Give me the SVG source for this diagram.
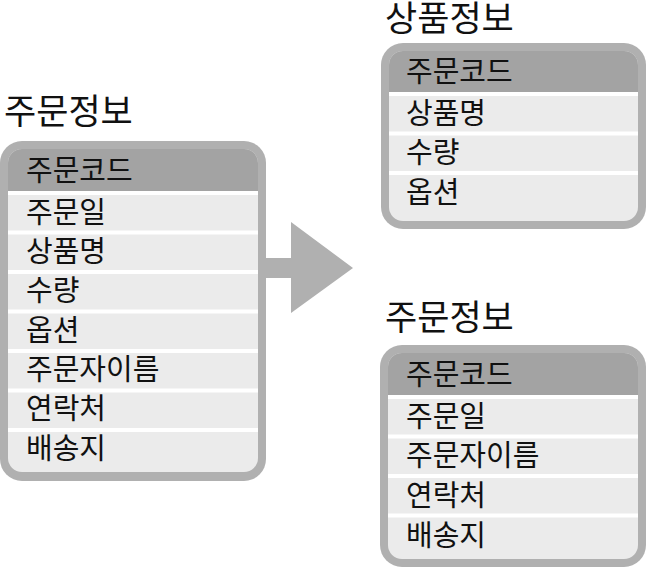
<svg xmlns="http://www.w3.org/2000/svg" width="647" height="568" viewBox="0 0 647 568">
<style>
.outer{fill:#b0b0b0}
.inner{fill:#ebebeb}
.hdr{fill:#a3a3a3}
.sep{fill:#ffffff}
.t{font-family:"Noto Sans CJK KR","Noto Sans",sans-serif;font-size:29px;fill:#111111}
.title{font-family:"Noto Sans CJK KR","Noto Sans",sans-serif;font-size:35px;fill:#111111}
.arrow{fill:#b0b0b0}
</style>
<rect width="647" height="568" fill="#ffffff"/>
<g id="left">
<text class="title" x="4" y="124">주문정보</text>
<rect class="outer" x="0" y="141" width="266" height="340" rx="22"/>
<rect class="inner" x="8" y="149" width="250" height="323" rx="14"/>
<path class="hdr" d="M8,191 V163 A14,14 0 0 1 22,149 H244 A14,14 0 0 1 258,163 V191 Z"/>
<rect class="sep" x="8" y="191" width="250" height="4"/>
<rect class="sep" x="8" y="230.5" width="250" height="4"/>
<rect class="sep" x="8" y="270" width="250" height="4"/>
<rect class="sep" x="8" y="309.5" width="250" height="4"/>
<rect class="sep" x="8" y="349" width="250" height="4"/>
<rect class="sep" x="8" y="388.5" width="250" height="4"/>
<rect class="sep" x="8" y="428" width="250" height="4"/>
<text class="t" x="26" y="181">주문코드</text>
<text class="t" x="26" y="223">주문일</text>
<text class="t" x="26" y="262">상품명</text>
<text class="t" x="26" y="301">수량</text>
<text class="t" x="26" y="341">옵션</text>
<text class="t" x="26" y="380">주문자이름</text>
<text class="t" x="26" y="419">연락처</text>
<text class="t" x="26" y="459">배송지</text>
</g>
<g id="connectors">
<path class="arrow" d="M262,258 H291 V222 L353,268 L291,313 V278 H262 Z"/>
</g>
<g id="product">
<text class="title" x="385" y="31">상품정보</text>
<rect class="outer" x="381" y="43" width="265" height="186" rx="22"/>
<rect class="inner" x="389" y="51" width="249" height="170" rx="14"/>
<path class="hdr" d="M389,92 V65 A14,14 0 0 1 403,51 H624 A14,14 0 0 1 638,65 V92 Z"/>
<rect class="sep" x="389" y="92" width="249" height="4"/>
<rect class="sep" x="389" y="131.5" width="249" height="4"/>
<rect class="sep" x="389" y="171" width="249" height="4"/>
<text class="t" x="406" y="82">주문코드</text>
<text class="t" x="406" y="124">상품명</text>
<text class="t" x="406" y="163">수량</text>
<text class="t" x="406" y="203">옵션</text>
</g>
<g id="order">
<text class="title" x="385" y="330">주문정보</text>
<rect class="outer" x="380" y="345" width="266" height="222" rx="22"/>
<rect class="inner" x="388" y="353" width="250" height="206" rx="14"/>
<path class="hdr" d="M388,395 V367 A14,14 0 0 1 402,353 H624 A14,14 0 0 1 638,367 V395 Z"/>
<rect class="sep" x="388" y="395" width="250" height="4"/>
<rect class="sep" x="388" y="434.5" width="250" height="4"/>
<rect class="sep" x="388" y="474" width="250" height="4"/>
<rect class="sep" x="388" y="513.5" width="250" height="4"/>
<text class="t" x="406" y="385">주문코드</text>
<text class="t" x="406" y="427">주문일</text>
<text class="t" x="406" y="466">주문자이름</text>
<text class="t" x="406" y="506">연락처</text>
<text class="t" x="406" y="546">배송지</text>
</g>
</svg>
